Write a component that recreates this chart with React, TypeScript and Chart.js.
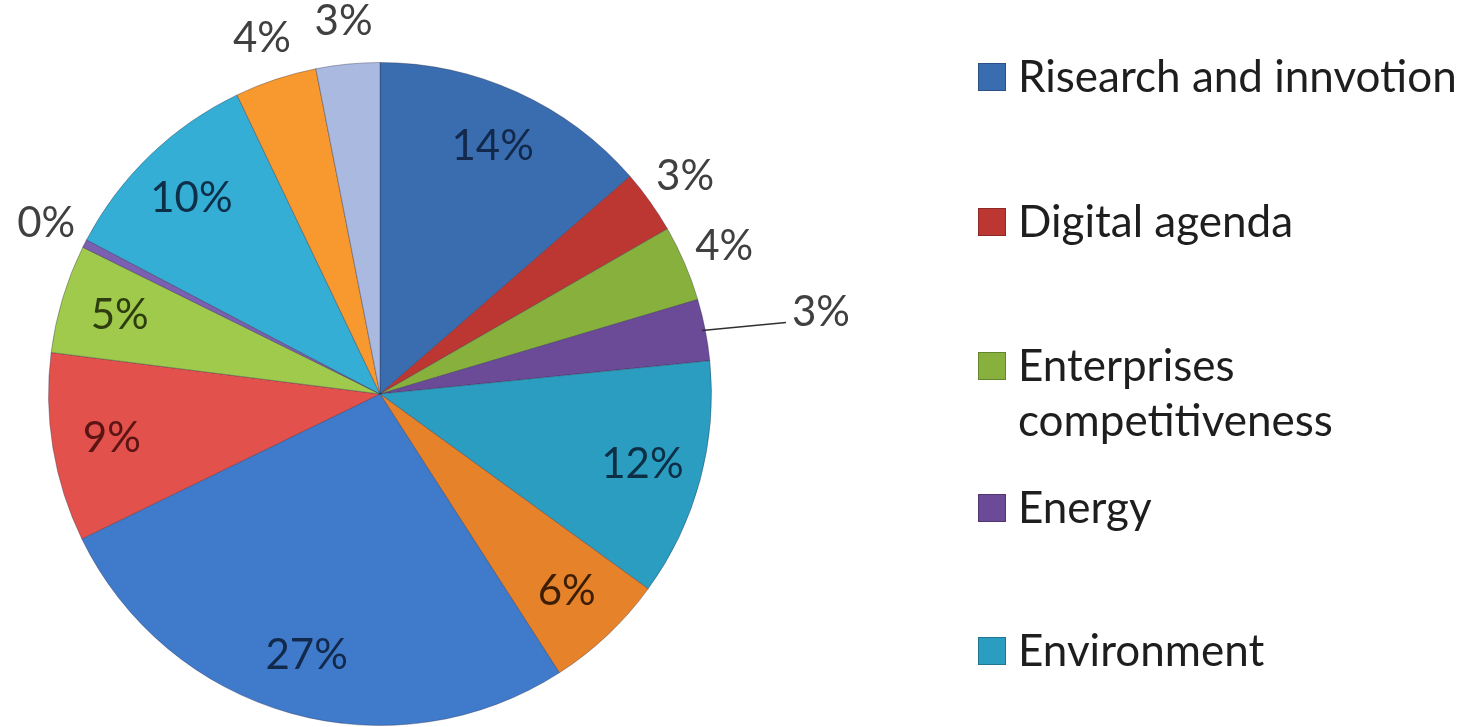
import React, { useEffect, useRef } from "react";
import { Chart, registerables } from "chart.js";

Chart.register(...registerables);

// ---- data ----
const categories = [
  "Risearch and innvotion",
  "Digital agenda",
  "Enterprises competitiveness",
  "Energy",
  "Environment",
  "Category 6",
  "Category 7",
  "Category 8",
  "Category 9",
  "Category 10",
  "Category 11",
  "Category 12",
  "Category 13",
];
const shares = [13.6, 3.1, 3.7, 3.0, 11.6, 5.9, 26.9, 9.2, 5.3, 0.4, 10.2, 4.0, 3.1];
const legendCount = 5;

// ---- styles ----
const sliceColors = [
  "#3A6DB0", "#BC3731", "#88B03D", "#6B4A98", "#2B9DC0", "#E6822A",
  "#3F7ACB", "#E2514C", "#9FCA4C", "#7B5FB0", "#35AED5", "#F7992E", "#A9B9E0",
];
const insideTextColors = [
  "#13294B", "#404040", "#404040", "#404040", "#0D2F45", "#3D1E05",
  "#13294B", "#5A1413", "#2E3D10", "#404040", "#0E2F48", "#404040", "#404040",
];
const labelPlacement = ["in", "out", "out", "leader", "in", "in", "in", "in", "in", "out", "in", "out", "out"];
const FONT = "Lato, 'Open Sans', sans-serif";

const sliceLabelPlugin = {
  id: "sliceLabels",
  afterDatasetsDraw(chart: any) {
    const ctx = chart.ctx;
    const meta = chart.getDatasetMeta(0);
    const total = shares.reduce((a, b) => a + b, 0);
    ctx.save();
    ctx.font = `42px ${FONT}`;
    ctx.textAlign = "center";
    ctx.textBaseline = "middle";
    meta.data.forEach((arc: any, i: number) => {
      const p = arc.getProps(["x", "y", "startAngle", "endAngle", "outerRadius"], true);
      const mid = (p.startAngle + p.endAngle) / 2;
      const text = Math.round((shares[i] / total) * 100) + "%";
      const mode = labelPlacement[i];
      if (mode === "in") {
        const r = p.outerRadius * 0.82;
        ctx.fillStyle = insideTextColors[i];
        ctx.fillText(text, p.x + Math.cos(mid) * r, p.y + Math.sin(mid) * r);
      } else if (mode === "out") {
        const r = p.outerRadius * 1.13;
        ctx.fillStyle = "#404040";
        ctx.fillText(text, p.x + Math.cos(mid) * r, p.y + Math.sin(mid) * r);
      } else {
        const r = p.outerRadius * 0.99;
        const sx = p.x + Math.cos(mid) * r;
        const sy = p.y + Math.sin(mid) * r;
        const ex = sx + 84;
        const ey = sy - 8;
        ctx.strokeStyle = "#303030";
        ctx.lineWidth = 1.5;
        ctx.beginPath();
        ctx.moveTo(sx, sy);
        ctx.lineTo(ex, ey);
        ctx.stroke();
        ctx.fillStyle = "#404040";
        ctx.textAlign = "left";
        ctx.fillText(text, ex + 6, ey - 10);
        ctx.textAlign = "center";
      }
    });
    ctx.restore();
  },
};

const legendPlugin = {
  id: "sideLegend",
  afterDraw(chart: any) {
    const ctx = chart.ctx;
    const left = 978;
    const textLeft = 1018;
    const maxWidth = 445;
    const tops = [63, 208, 352, 494, 637];
    const box = 28;
    const lineH = 55;
    ctx.save();
    ctx.font = `44px ${FONT}`;
    ctx.textBaseline = "alphabetic";
    ctx.textAlign = "left";
    for (let i = 0; i < legendCount; i++) {
      const top = tops[i];
      const g = ctx.createLinearGradient(0, top, 0, top + box);
      g.addColorStop(0, sliceColors[i]);
      g.addColorStop(1, sliceColors[i]);
      ctx.fillStyle = g;
      ctx.fillRect(left, top, box, box);
      ctx.strokeStyle = "rgba(0,0,0,0.25)";
      ctx.lineWidth = 1;
      ctx.strokeRect(left + 0.5, top + 0.5, box - 1, box - 1);
      // wrap words
      const words = categories[i].split(" ");
      const lines: string[] = [];
      let cur = "";
      for (const w of words) {
        const test = cur ? cur + " " + w : w;
        if (ctx.measureText(test).width > maxWidth && cur) {
          lines.push(cur);
          cur = w;
        } else cur = test;
      }
      if (cur) lines.push(cur);
      ctx.fillStyle = "#1E1E1E";
      lines.forEach((ln, k) => {
        ctx.fillText(ln, textLeft, top + box + 1 + k * lineH);
      });
    }
    ctx.restore();
  },
};

export default function App() {
  const ref = useRef<HTMLCanvasElement | null>(null);
  useEffect(() => {
    if (!ref.current) return;
    const chart = new Chart(ref.current, {
      type: "pie",
      data: {
        labels: categories,
        datasets: [
          {
            data: shares,
            backgroundColor: sliceColors,
            borderColor: "rgba(40,40,70,0.35)",
            borderWidth: 1,
          },
        ],
      },
      options: {
        responsive: false,
        animation: false,
        layout: { padding: { left: 48, right: 763, top: 62, bottom: 1 } },
        plugins: {
          legend: { display: false },
          tooltip: { enabled: false },
        },
      },
      plugins: [sliceLabelPlugin, legendPlugin],
    });
    return () => chart.destroy();
  }, []);
  return (
    <div style={{ position: "absolute", left: 0, top: 0, width: 1475, height: 727, background: "#fff" }}>
      <canvas ref={ref} width={1475} height={727} />
    </div>
  );
}
